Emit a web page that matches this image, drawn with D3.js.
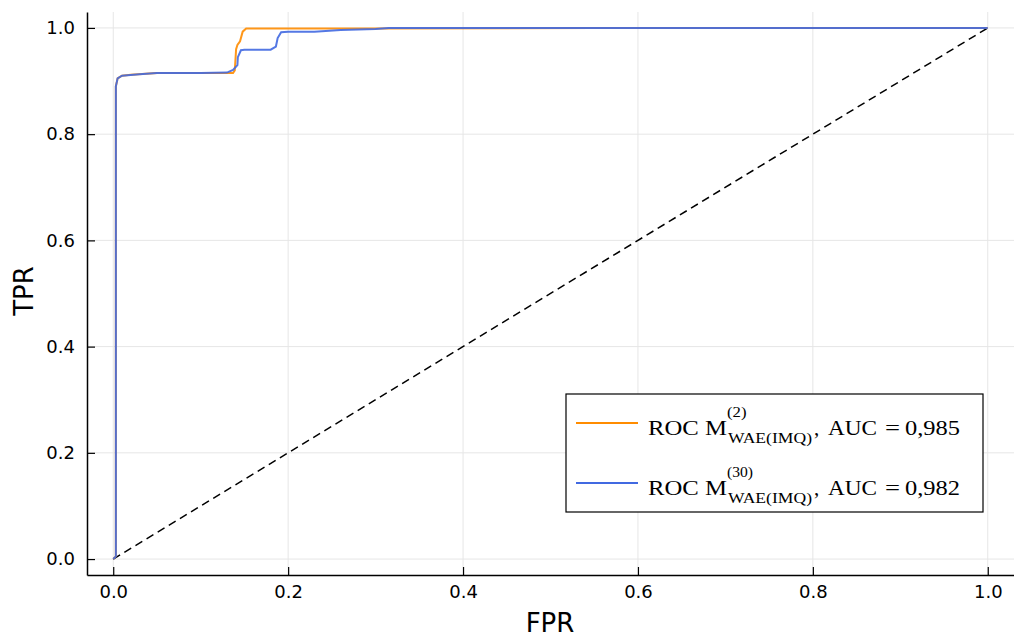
<!DOCTYPE html>
<html>
<head>
<meta charset="utf-8">
<script src="https://cdn.jsdelivr.net/npm/d3@7"></script>
<style>
  body { margin: 0; background: #fff; }
  svg { display: block; }
</style>
</head>
<body>
<svg id="viz"></svg>
<script>
// data
const ticks = [0, 0.2, 0.4, 0.6, 0.8, 1.0];

const fpr2 = [0, 0.003, 0.003, 0.005, 0.01, 0.02, 0.05, 0.10, 0.13, 0.137, 0.139, 0.1405, 0.142, 0.145, 0.148, 0.152, 0.20, 0.30, 0.55, 1.0];
const tpr2 = [0, 0.005, 0.89, 0.905, 0.91, 0.912, 0.915, 0.915, 0.915, 0.915, 0.92, 0.96, 0.968, 0.975, 0.993, 0.999, 0.999, 0.999, 1.0, 1.0];

const fpr30 = [0, 0.003, 0.003, 0.005, 0.01, 0.03, 0.05, 0.10, 0.13, 0.137, 0.142, 0.1425, 0.146, 0.15, 0.18, 0.186, 0.188, 0.192, 0.20, 0.23, 0.26, 0.30, 0.315, 1.0];
const tpr30 = [0, 0.005, 0.89, 0.905, 0.91, 0.913, 0.915, 0.915, 0.916, 0.921, 0.93, 0.945, 0.958, 0.959, 0.959, 0.965, 0.981, 0.992, 0.993, 0.993, 0.996, 0.998, 1.0, 1.0];

const series = [
  {sup: "(2)", auc: "0,985", color: "#FF8C00", x: fpr2, y: tpr2},
  {sup: "(30)", auc: "0,982", color: "#4169E1", x: fpr30, y: tpr30}
];

const width = 1014, height = 637;
const svg = d3.select("#viz").attr("width", width).attr("height", height);

const x = d3.scaleLinear().domain([-0.03, 1.03]).range([87, 1014]);
const y = d3.scaleLinear().domain([-0.03, 1.03]).range([575, 12]);

// grid
const grid = svg.append("g").attr("stroke", "#e6e6e6").attr("stroke-width", 1);
grid.selectAll(".gx").data(ticks).enter().append("line")
    .attr("x1", d => x(d)).attr("x2", d => x(d))
    .attr("y1", y.range()[0]).attr("y2", y.range()[1]);
grid.selectAll(".gy").data(ticks).enter().append("line")
    .attr("y1", d => y(d)).attr("y2", d => y(d))
    .attr("x1", x.range()[0]).attr("x2", x.range()[1]);

// diagonal
svg.append("line")
   .attr("x1", x(0)).attr("y1", y(0)).attr("x2", x(1)).attr("y2", y(1))
   .attr("stroke", "#000").attr("stroke-width", 1.5)
   .attr("stroke-dasharray", "8,5");

// curves
const line = d3.line().x(d => x(d[0])).y(d => y(d[1]));
series.forEach(s => {
  svg.append("path")
     .attr("d", line(d3.zip(s.x, s.y)))
     .attr("fill", "none")
     .attr("stroke", s.color)
     .attr("stroke-width", 2)
     .attr("stroke-opacity", 0.9);
});

// axes
const xAxis = d3.axisBottom(x).tickValues(ticks).tickFormat(d3.format(".1f")).tickSizeInner(-8).tickSizeOuter(0).tickPadding(10);
const yAxis = d3.axisLeft(y).tickValues(ticks).tickFormat(d3.format(".1f")).tickSizeInner(-8).tickSizeOuter(0).tickPadding(12);

const gx = svg.append("g").attr("transform", "translate(0,575)").call(xAxis);
const gy = svg.append("g").attr("transform", "translate(87,0)").call(yAxis);
[gx, gy].forEach(g => {
  g.select(".domain").attr("stroke", "#000").attr("stroke-width", 1.5);
  g.selectAll(".tick line").attr("stroke", "#000").attr("stroke-width", 1.2);
  g.selectAll(".tick text").attr("font-family", "DejaVu Sans").attr("font-size", 18).attr("fill", "#000");
});

// axis labels
svg.append("text").attr("x", 550).attr("y", 632).attr("text-anchor", "middle")
   .attr("font-family", "DejaVu Sans").attr("font-size", 26).text("FPR");
svg.append("text").attr("transform", "translate(33,291) rotate(-90)").attr("text-anchor", "middle")
   .attr("font-family", "DejaVu Sans").attr("font-size", 26).text("TPR");

// legend
const leg = svg.append("g");
leg.append("rect").attr("x", 566).attr("y", 394).attr("width", 417).attr("height", 118)
   .attr("fill", "#fff").attr("stroke", "#000").attr("stroke-width", 1.2);
series.forEach((s, i) => {
  const ly = 423 + i * 60, base = ly + 12;
  leg.append("line").attr("x1", 576).attr("x2", 638).attr("y1", ly).attr("y2", ly)
     .attr("stroke", s.color).attr("stroke-width", 2);
  const g = leg.append("g").attr("font-family", "Liberation Serif").attr("fill", "#000");
  const tok = (tx, ty, size, str, len) => {
    const t = g.append("text").attr("x", tx).attr("y", ty).attr("font-size", size).text(str);
    if (len) t.attr("textLength", len).attr("lengthAdjust", "spacingAndGlyphs");
  };
  tok(648, base, 21, "ROC M", 79);
  tok(727, base - 18, 15, s.sup, s.sup.length * 6.5);
  tok(728, base + 8, 15, "WAE(IMQ)", 84);
  tok(814, base, 21, ",");
  tok(828, base, 21, "AUC", 49);
  tok(885, base, 21, "=", 15);
  tok(905, base, 21, s.auc, 55);
});
</script>
</body>
</html>
